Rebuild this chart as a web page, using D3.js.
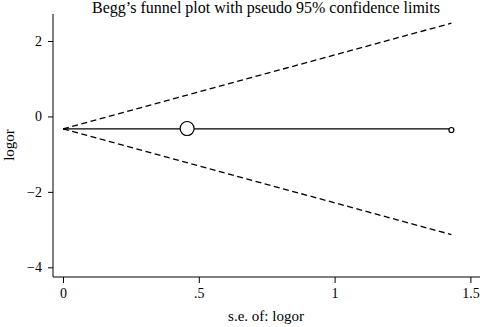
<!DOCTYPE html>
<html>
<head>
<meta charset="utf-8">
<script src="https://cdn.jsdelivr.net/npm/d3@7"></script>
<style>
  body { margin: 0; background: #fff; }
  svg { display: block; font-family: "Liberation Serif", "DejaVu Serif", serif; }
</style>
</head>
<body>
<svg id="chart"></svg>
<script>
// Datos
var studySe = [0.457, 1.43];
var studyLogor = [-0.32, -0.36];
var pooled = -0.33;
var zCrit = 1.96;
var xTicks = [0, 0.5, 1, 1.5];
var xTickLabels = ['0', '.5', '1', '1.5'];
var yTicks = [2, 0, -2, -4];
var yTickLabels = ['2', '0', '\u22122', '\u22124'];

var w = 480,
    h = 327;

var svg = d3.select('#chart')
    .attr('width', w)
    .attr('height', h);

// Escalas
var xScale = d3.scaleLinear()
    .domain([0, 1.5])
    .range([63, 470.4]);
var yScale = d3.scaleLinear()
    .domain([2, -4])
    .range([41, 267.3]);

var axisX0 = 53,
    axisY0 = 277;

// Ejes
var yAxis = d3.axisLeft(yScale)
    .tickValues(yTicks)
    .tickFormat(function(d, i) { return yTickLabels[i]; })
    .tickSize(5)
    .tickPadding(6);
var gy = svg.append('g')
    .attr('transform', 'translate(' + axisX0 + ',0)')
    .call(yAxis);
gy.select('.domain').remove();
gy.append('line')
    .attr('x1', 0).attr('x2', 0)
    .attr('y1', 14).attr('y2', axisY0)
    .attr('stroke', '#000');

var xAxis = d3.axisBottom(xScale)
    .tickValues(xTicks)
    .tickFormat(function(d, i) { return xTickLabels[i]; })
    .tickSize(6)
    .tickPadding(5);
var gx = svg.append('g')
    .attr('transform', 'translate(0,' + axisY0 + ')')
    .call(xAxis);
gx.select('.domain').remove();
gx.append('line')
    .attr('x1', axisX0).attr('x2', w)
    .attr('y1', 0).attr('y2', 0)
    .attr('stroke', '#000');

svg.selectAll('.tick text')
    .attr('font-family', '"Liberation Serif", serif')
    .attr('font-size', 14)
    .attr('fill', '#000');
svg.selectAll('.tick line').attr('stroke', '#000');

// Limites de confianza
var seMax = d3.max(studySe);
var lineGen = d3.line()
    .x(function(d) { return xScale(d[0]); })
    .y(function(d) { return yScale(d[1]); });

svg.append('path')
    .attr('d', lineGen([[0, pooled], [seMax, pooled + zCrit * seMax]]))
    .attr('fill', 'none')
    .attr('stroke', '#000')
    .attr('stroke-width', 1.3)
    .attr('stroke-dasharray', '6,3.5');
svg.append('path')
    .attr('d', lineGen([[0, pooled], [seMax, pooled - zCrit * seMax]]))
    .attr('fill', 'none')
    .attr('stroke', '#000')
    .attr('stroke-width', 1.3)
    .attr('stroke-dasharray', '6,3.5');
svg.append('path')
    .attr('d', lineGen([[0, pooled], [seMax, pooled]]))
    .attr('fill', 'none')
    .attr('stroke', '#000')
    .attr('stroke-width', 1.2);

// Puntos (tamano segun peso)
var rScale = d3.scaleSqrt()
    .domain([0, 1 / (studySe[0] * studySe[0])])
    .range([0, 7]);
svg.selectAll('circle.study')
    .data(studySe)
    .enter()
    .append('circle')
    .attr('class', 'study')
    .attr('cx', function(d) { return xScale(d); })
    .attr('cy', function(d, i) { return yScale(studyLogor[i]); })
    .attr('r', function(d) { return Math.max(2.5, rScale(1 / (d * d))); })
    .attr('fill', '#fff')
    .attr('stroke', '#000')
    .attr('stroke-width', 1.2);

// Textos
svg.append('text')
    .attr('x', 266)
    .attr('y', 13)
    .attr('text-anchor', 'middle')
    .attr('font-size', 16)
    .text("Begg\u2019s funnel plot with pseudo 95% confidence limits");

svg.append('text')
    .attr('transform', 'translate(14,145) rotate(-90)')
    .attr('text-anchor', 'middle')
    .attr('font-size', 15)
    .text('logor');

svg.append('text')
    .attr('x', 266)
    .attr('y', 321)
    .attr('text-anchor', 'middle')
    .attr('font-size', 15)
    .text('s.e. of: logor');
</script>
</body>
</html>
